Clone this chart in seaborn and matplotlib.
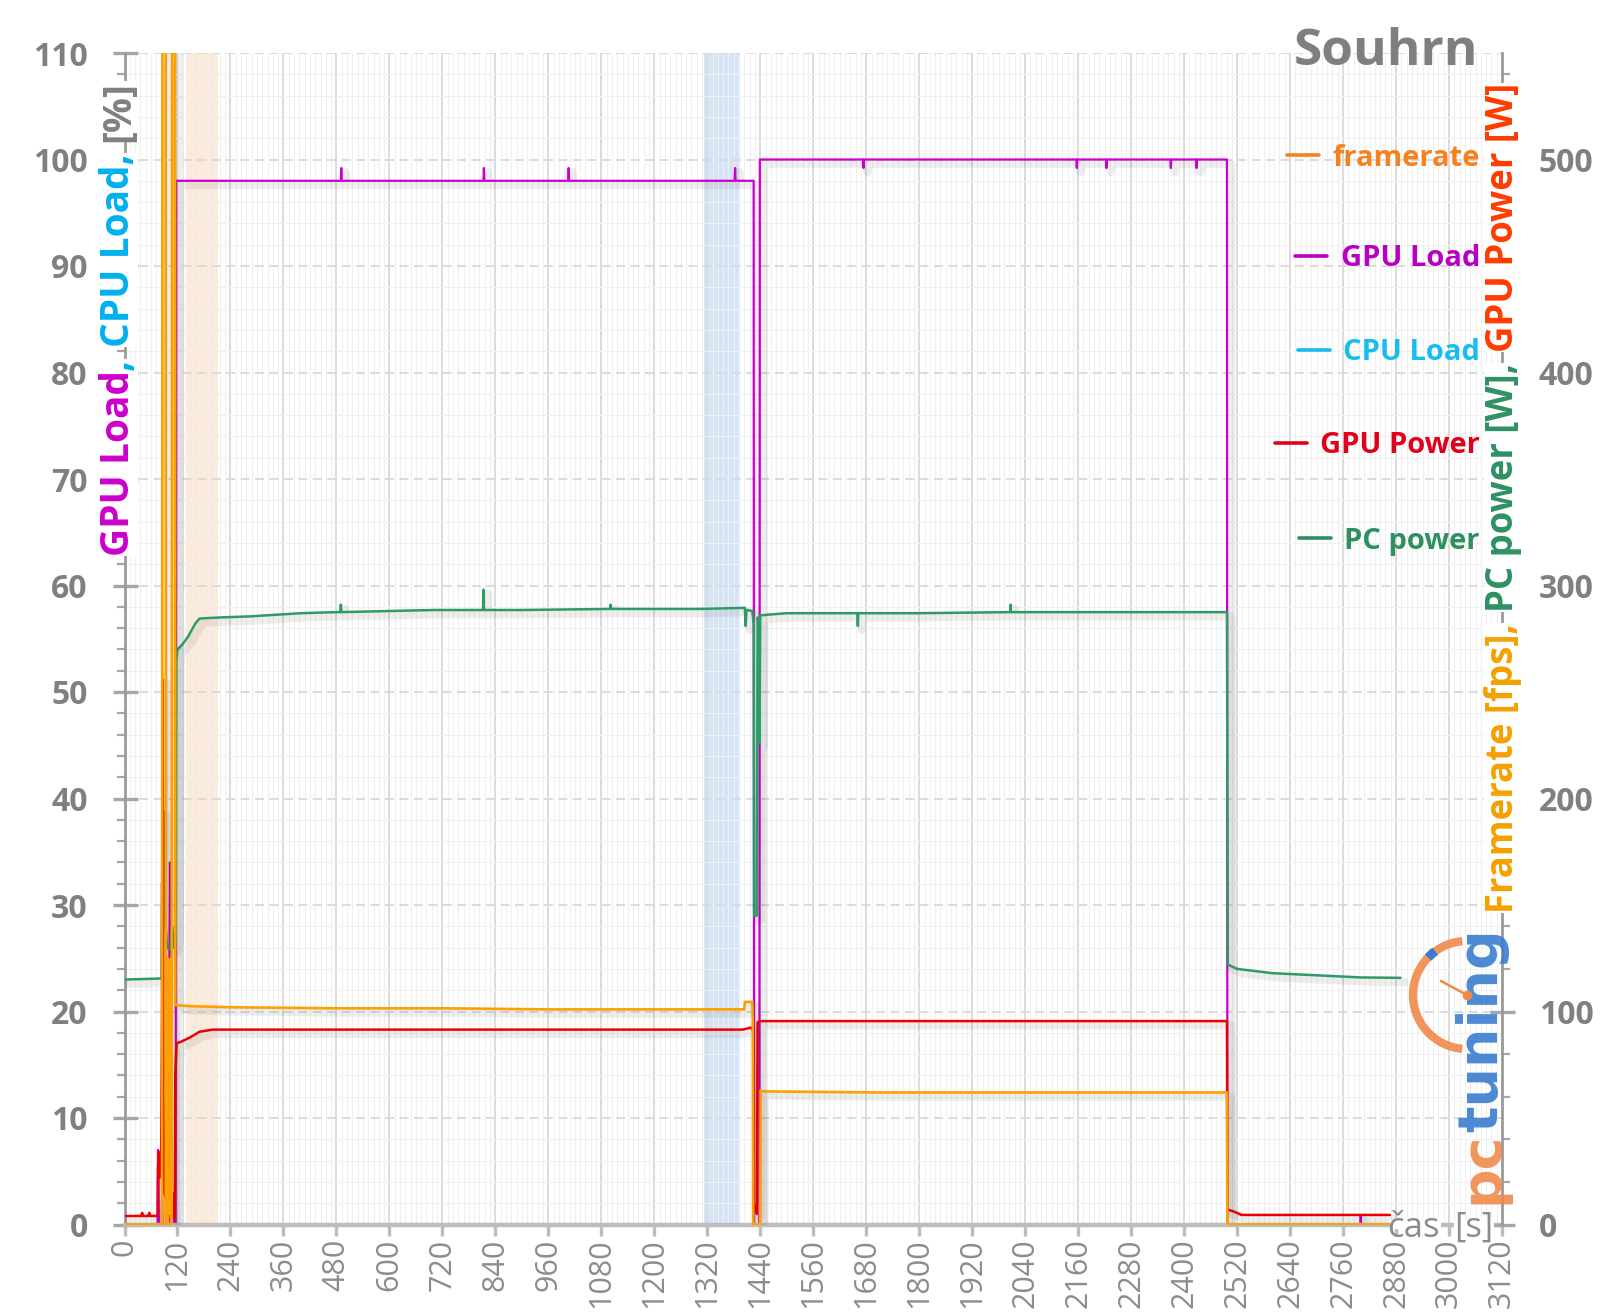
import matplotlib
matplotlib.use("Agg")
import numpy as np
import pandas as pd
import seaborn as sns
import matplotlib.pyplot as plt
import matplotlib.patheffects as pe
from matplotlib.lines import Line2D
from matplotlib.patches import Arc, Rectangle
from matplotlib.transforms import IdentityTransform
from matplotlib.ticker import MultipleLocator, FixedLocator

# ---------------- data ----------------
FR_T = [0, 84, 85, 86, 93, 94, 95, 96, 97, 98, 99, 100, 101, 102, 103, 104, 105, 106, 107, 108, 114, 115,
        116, 150, 240, 480, 720, 960, 1200, 1380, 1404, 1405, 1422, 1423, 1424, 1440, 1441, 1443, 1700,
        2000, 2300, 2497, 2498, 2866]
FR_V = [0, 0, 0, 700, 700, 0, 120, 10, 125, 0, 118, 30, 122, 5, 110, 60, 125, 0, 115, 700, 700, 104,
        103, 102.5, 102, 101.5, 101.5, 101, 101, 101, 101, 104.5, 104.5, 95, 0, 0, 63, 62.5, 62,
        62, 62, 62, 0, 0]

GL_T = [0, 75, 76, 77, 78, 84, 85, 86, 97, 98, 99, 100, 102, 103, 104, 106, 112, 113, 114, 116, 117,
        490, 491, 492, 813, 814, 815, 1005, 1006, 1007, 1382, 1383, 1384, 1425, 1426, 1438, 1439,
        1673, 1674, 1675, 2156, 2157, 2158, 2223, 2224, 2225, 2369, 2370, 2371, 2427, 2428, 2429,
        2497, 2498, 2799, 2800, 2801, 2866]
GL_V = [0, 0, 7, 5, 0, 0, 2.3, 0, 0, 3, 0, 0, 26, 34, 27, 0, 0, 3, 0, 0, 98,
        98, 99.2, 98, 98, 99.2, 98, 98, 99.2, 98, 98, 99.2, 98, 98, 0, 0, 100,
        100, 99.2, 100, 100, 99.2, 100, 100, 99.2, 100, 100, 99.2, 100, 100, 99.2, 100,
        100, 0, 0, 0.8, 0, 0]

CL_T = []
CL_V = []

GP_T = [0, 38, 40, 42, 54, 56, 58, 75, 76, 78, 80, 83, 85, 86, 87, 88, 90, 94, 100, 104, 107, 110,
        113, 114, 115, 118, 130, 150, 170, 200, 400, 800, 1200, 1400, 1420, 1422, 1424, 1425, 1432,
        1434, 1440, 1600, 2000, 2400, 2497, 2498, 2510, 2530, 2600, 2700, 2800, 2866]
GP_V = [4, 4, 5.5, 4, 4, 5.5, 4, 4, 27, 34, 22, 30, 100, 256, 200, 60, 15, 12, 10, 30, 12, 6,
        3, 10, 70, 85, 86, 88, 90.5, 91.5, 91.5, 91.5, 91.5, 91.5, 92.5, 91.5, 91, 10, 5,
        95, 95.5, 95.5, 95.5, 95.5, 95.5, 7, 6.3, 4.5, 4.5, 4.5, 4.5, 4.5]

PC_T = [0, 84, 85, 87, 88, 90, 93, 97, 104, 108, 112, 116, 117, 120, 130, 144, 160, 170, 216, 284,
        400, 480, 489, 490, 491, 700, 812, 813, 814, 900, 1100, 1101, 1102, 1300, 1405, 1407, 1409,
        1422, 1425, 1426, 1432, 1434, 1437, 1438, 1440, 1500, 1660, 1661, 1662, 1800, 2006, 2007,
        2008, 2300, 2497, 2499, 2520, 2560, 2600, 2700, 2800, 2890]
PC_V = [115, 115.5, 160, 150, 194, 180, 140, 130, 129, 140, 130, 135, 265, 270, 272, 276, 282, 284.5, 285, 285.5,
        287, 287.5, 287.5, 291, 287.5, 288.5, 288.5, 298, 288.5, 288.5, 289, 291, 289, 289, 289.5, 281, 288.5,
        288, 282, 145, 145, 285, 283, 226, 286, 287, 287, 281, 287, 287, 287.5, 291,
        287.5, 287.5, 287.5, 122, 120, 119, 118, 117, 116, 115.8]

BAND_ORANGE = (140, 212)
BAND_BLUE = (1312, 1394)

X_TICKS = [0, 120, 240, 360, 480, 600, 720, 840, 960, 1080, 1200, 1320, 1440, 1560, 1680, 1800,
           1920, 2040, 2160, 2280, 2400, 2520, 2640, 2760, 2880, 3000, 3120]
Y_LEFT_TICKS = [0, 10, 20, 30, 40, 50, 60, 70, 80, 90, 100, 110]
Y_RIGHT_TICKS = [0, 100, 200, 300, 400, 500]

SERIES_NAMES = ["framerate", "GPU Load", "CPU Load", "GPU Power", "PC power"]
LINE_COLORS = ["#FFA000", "#CC00CC", "#00BFF0", "#EE0000", "#2E9B67"]
LEGEND_TEXT_COLORS = ["#F5821F", "#B800C4", "#17BDEE", "#E0001B", "#2E8F5F"]

# ---------------- styling ----------------
sns.set_theme(style="white")
plt.rcParams["font.family"] = ["Open Sans", "DejaVu Sans"]

W, H = 1600, 1314
fig = plt.figure(figsize=(W / 100, H / 100), dpi=100)
ax = fig.add_axes([124.5 / W, 1 - 1224.5 / H, (1502 - 124.5) / W, (1224.5 - 53) / H])
ax2 = ax.twinx()

GRAY = "#A6A6A6"
ax.set_xlim(0, 3120)
ax.set_ylim(0, 110)
ax2.set_ylim(0, 550)

ax.axvspan(*BAND_ORANGE, color="#FCE9D8", lw=0, zorder=0.1)
ax.axvspan(*BAND_BLUE, color="#D5E5F7", lw=0, zorder=0.1)

ax.xaxis.set_major_locator(FixedLocator(X_TICKS))
ax.xaxis.set_minor_locator(MultipleLocator(12))
ax.yaxis.set_major_locator(FixedLocator(Y_LEFT_TICKS))
ax.yaxis.set_minor_locator(MultipleLocator(2))
ax2.yaxis.set_major_locator(FixedLocator(Y_RIGHT_TICKS))
ax2.yaxis.set_minor_locator(MultipleLocator(20))

ax.set_axisbelow(True)
ax.grid(which="minor", axis="both", color="#F0F0F0", lw=0.8)
ax.grid(which="major", axis="x", color="#D9D9D9", lw=1.3, ls="-")
ax.grid(which="major", axis="y", color="#D9D9D9", lw=1.3, ls=(0, (5, 3)))
ax2.grid(False)

shadow = [pe.SimpleLineShadow(offset=(3, -3), shadow_color="k", alpha=0.07, linewidth=6), pe.Normal()]

def draw(axis, t, v, color, lw, label):
    df = pd.DataFrame({"t": t, "v": v})
    sns.lineplot(data=df, x="t", y="v", ax=axis, color=color, lw=lw, estimator=None,
                 sort=False, errorbar=None, legend=False, label=label, path_effects=shadow)

draw(ax, GL_T, GL_V, LINE_COLORS[1], 1.6, "GPU Load")
draw(ax, CL_T, CL_V, LINE_COLORS[2], 1.6, "CPU Load")
draw(ax2, PC_T, PC_V, LINE_COLORS[4], 1.8, "PC power")
draw(ax2, GP_T, GP_V, LINE_COLORS[3], 1.8, "GPU Power")
draw(ax2, FR_T, FR_V, LINE_COLORS[0], 1.9, "framerate")
for a in (ax, ax2):
    if a.get_legend() is not None:
        a.get_legend().remove()
    a.set_xlabel("")
    a.set_ylabel("")

# spines
for a in (ax, ax2):
    a.spines["top"].set_visible(False)
    for s in ("left", "right"):
        a.spines[s].set_color("#9A9A9A")
        a.spines[s].set_linewidth(2.0)
    a.spines["bottom"].set_color("#BDBDBD")
    a.spines["bottom"].set_linewidth(3.2)
ax.spines["right"].set_visible(False)
ax2.spines["left"].set_visible(False)
ax2.spines["bottom"].set_visible(False)

ax.tick_params(axis="y", which="major", direction="inout", length=18, width=2.4, color=GRAY, pad=17.5,
               labelsize=23, labelcolor="#808080")
ax.tick_params(axis="y", which="minor", direction="out", length=6, width=1.6, color=GRAY)
ax2.tick_params(axis="y", which="major", direction="inout", length=18, width=2.4, color=GRAY, pad=17.5,
                labelsize=23, labelcolor="#808080")
ax2.tick_params(axis="y", which="minor", direction="out", length=6, width=1.6, color=GRAY)
ax.tick_params(axis="x", which="major", direction="out", length=8, width=2.4, color="#BDBDBD", pad=2,
               labelsize=22, labelcolor="#8C8C8C", labelrotation=90, bottom=True)
ax.tick_params(axis="x", which="minor", length=0)
for lab in ax.get_yticklabels() + ax2.get_yticklabels():
    lab.set_fontweight("bold")
ax.set_xticklabels([str(x) for x in X_TICKS])

# title
fig.text(1478 / W, 1 - 65 / H, "Souhrn", ha="right", va="baseline", fontsize=37,
         fontweight="bold", color="#7F7F7F")

# legends (right aligned, one per entry)
LEG_Y = [158, 259, 353, 446, 541]
for name, lc, tc, y in zip(SERIES_NAMES, LINE_COLORS, LEGEND_TEXT_COLORS, LEG_Y):
    h = Line2D([], [], color=tc, lw=2.6)
    leg = fig.legend([h], [name], loc="center right", bbox_to_anchor=(1480 / W, 1 - y / H),
                     bbox_transform=fig.transFigure, frameon=False, borderpad=0, borderaxespad=0,
                     handlelength=1.1, handletextpad=0.45,
                     prop=dict(family=["Open Sans", "DejaVu Sans"], weight="bold", size=21))
    for t in leg.get_texts():
        t.set_color(tc)

renderer = fig.canvas.get_renderer()

def vtext(x_px, y_px, pieces, size, weight="bold", family=("Open Sans", "DejaVu Sans"), bg=True, alpha=1.0):
    y = y_px
    for s, c, gap in pieces:
        kw = dict(bbox=dict(facecolor="white", edgecolor="none", pad=0)) if bg else {}
        t = fig.text(x_px, y, s, transform=IdentityTransform(), rotation=90, rotation_mode="anchor",
                     ha="left", va="baseline", color=c, fontsize=size, fontweight=weight,
                     family=list(family), zorder=6, alpha=alpha, **kw)
        bb = t.get_window_extent(renderer)
        y += bb.height + gap * size * 100 / 72

# left axis label
vtext(129, H - 556, [("GPU Load", "#CC00CC", 0.0), (",", "#00B0F0", 0.3),
                     ("CPU Load,", "#00B0F0", 0.3), ("[%]", "#808080", 0.0)], 28)
# right axis label
vtext(1513, H - 913, [("Framerate [fps],", "#F5A000", 0.3), ("PC power [W],", "#2E9163", 0.3),
                      ("GPU Power [W]", "#FF3B00", 0.0)], 26.3)

# x-axis title: white strips hide the spine behind the words, then the text
fig.add_artist(Rectangle((1390, H - 1229), 51, 9, transform=IdentityTransform(), facecolor="white",
                         edgecolor="none", zorder=5))
fig.add_artist(Rectangle((1454, H - 1229), 40, 9, transform=IdentityTransform(), facecolor="white",
                         edgecolor="none", zorder=5))
fig.text(1440, H - 1237, "čas", transform=IdentityTransform(), ha="right", va="baseline",
         fontsize=25, color="#8C8C8C", zorder=6)
fig.text(1454, H - 1237, "[s]", transform=IdentityTransform(), ha="left", va="baseline",
         fontsize=25, color="#8C8C8C", zorder=6)

# pctuning watermark
vtext(1497, H - 1204, [("pc", "#F08A4B", 0.0), ("tuning", "#3A7DD0", 0.0)], 40, weight="bold",
      family=("DejaVu Sans",), bg=False, alpha=0.9)
cx, cy, r = 1467, H - 995, 54
fig.add_artist(Arc((cx, cy), 2 * r, 2 * r, theta1=95, theta2=265, transform=IdentityTransform(),
                   color="#F08A4B", lw=6, zorder=6, alpha=0.9))
fig.add_artist(Arc((cx, cy), 2 * r, 2 * r, theta1=126, theta2=136, transform=IdentityTransform(),
                   color="#3A7DD0", lw=6.5, zorder=7))
fig.add_artist(Line2D([cx, cx - 26], [cy, cy + 14], transform=IdentityTransform(), color="#F08A4B",
                      lw=1.8, zorder=7))
fig.add_artist(Line2D([cx], [cy], transform=IdentityTransform(), marker="o", ms=6, color="#F08A4B", zorder=7))

fig.savefig("out.png", dpi=100, facecolor="white")
